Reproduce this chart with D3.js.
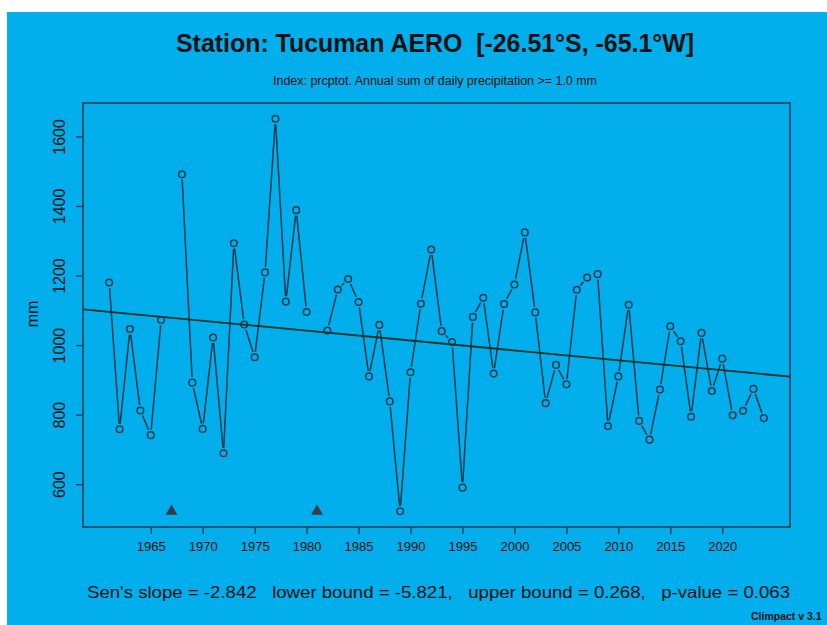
<!DOCTYPE html>
<html>
<head>
<meta charset="utf-8">
<script src="https://cdn.jsdelivr.net/npm/d3@7/dist/d3.min.js"></script>
<style>
  body { margin: 0; background: #fff; }
  text { font-family: "Liberation Sans", Arial, Helvetica, sans-serif; fill: #111; }
</style>
</head>
<body>
<script>
// annual prcptot, mm (null = missing year)
var years = d3.range(1961, 2025);
var prcptot = [
  1180, 758, 1046, 812, 741, 1072, null, 1491, 892, 759,
  1022, 689, 1293, 1059, 965, 1209, 1651, 1125, 1388, 1095,
  null, 1042, 1160, 1190, 1124, 910, 1058, 838, 522, 922,
  1119, 1275, 1040, 1009, 590, 1081, 1136, 918, 1118, 1174,
  1324, 1094, 833, 943, 887, 1159, 1194, 1204, 767, 910,
  1116, 782, 728, 872, 1054, 1011, 794, 1035, 868, 961,
  798, 811, 874, 790
];
var xTicks = [1965, 1970, 1975, 1980, 1985, 1990, 1995, 2000, 2005, 2010, 2015, 2020];
var yTicks = [600, 800, 1000, 1200, 1400, 1600];
var senSlope = -2.842, trendAt1990 = 1013;
var statsLine = "Sen's slope = -2.842   lower bound = -5.821,   upper bound = 0.268,   p-value = 0.063";

var W = 827, H = 625;
var box = {l: 83, r: 790, t: 103, b: 527};
var lineCol = "#17394a", trendCol = "#0c3322";

var svg = d3.select("body").append("svg")
    .attr("width", W).attr("height", H);

svg.append("rect").attr("x", 7).attr("y", 12)
    .attr("width", W - 7).attr("height", H - 12).attr("fill", "#02aeeb");

var pts = years.map(function(y, i) { return {year: y, v: prcptot[i]}; });
var valid = pts.filter(function(d) { return d.v != null; });

// R style 4% padding
var xr = d3.extent(years), yr = d3.extent(valid, function(d) { return d.v; });
var xp = (xr[1] - xr[0]) * 0.04, yp = (yr[1] - yr[0]) * 0.04;
var x = d3.scaleLinear().domain([xr[0] - xp, xr[1] + xp]).range([box.l, box.r]);
var y = d3.scaleLinear().domain([yr[0] - yp, yr[1] + yp]).range([box.b, box.t]);

// axes
var xAxis = svg.append("g").attr("transform", "translate(0," + box.b + ")")
    .call(d3.axisBottom(x).tickValues(xTicks).tickFormat(d3.format("d")).tickSize(7).tickPadding(8));
var yAxis = svg.append("g").attr("transform", "translate(" + box.l + ",0)")
    .call(d3.axisLeft(y).tickValues(yTicks).tickFormat(d3.format("d")).tickSize(7));
[xAxis, yAxis].forEach(function(g) {
  g.select(".domain").remove();
  g.selectAll("line").attr("stroke", lineCol).attr("stroke-width", 1.3);
});
xAxis.selectAll("text").attr("font-size", 13).attr("fill", "#111");
yAxis.selectAll("text")
    .attr("font-size", 16).attr("fill", "#111")
    .attr("text-anchor", "middle").attr("dy", null)
    .attr("x", null)
    .attr("transform", "translate(-18,0) rotate(-90)");

// trend line (Sen's slope)
svg.append("line")
    .attr("x1", box.l).attr("x2", box.r)
    .attr("y1", y(trendAt1990 + senSlope * (x.invert(box.l) - 1990)))
    .attr("y2", y(trendAt1990 + senSlope * (x.invert(box.r) - 1990)))
    .attr("stroke", trendCol).attr("stroke-width", 1.8);

// type "b" segments with gaps round the points
var gap = 5.5, segs = [];
for (var i = 1; i < pts.length; i++) {
  var a = pts[i - 1], b = pts[i];
  if (a.v == null || b.v == null) continue;
  var x1 = x(a.year), y1 = y(a.v), x2 = x(b.year), y2 = y(b.v);
  var len = Math.hypot(x2 - x1, y2 - y1);
  if (len <= 2 * gap) continue;
  var ux = (x2 - x1) / len, uy = (y2 - y1) / len;
  segs.push([x1 + ux * gap, y1 + uy * gap, x2 - ux * gap, y2 - uy * gap]);
}
svg.append("g").selectAll("line").data(segs).enter().append("line")
    .attr("x1", function(d) { return d[0]; }).attr("y1", function(d) { return d[1]; })
    .attr("x2", function(d) { return d[2]; }).attr("y2", function(d) { return d[3]; })
    .attr("stroke", lineCol).attr("stroke-width", 1.5);

svg.append("g").selectAll("circle").data(valid).enter().append("circle")
    .attr("cx", function(d) { return x(d.year); })
    .attr("cy", function(d) { return y(d.v); })
    .attr("r", 3.3)
    .attr("fill", "none").attr("stroke", lineCol).attr("stroke-width", 1.5);

// missing years
var missing = pts.filter(function(d) { return d.v == null; });
svg.append("g").selectAll("path").data(missing).enter().append("path")
    .attr("d", d3.symbol().type(d3.symbolTriangle).size(60))
    .attr("transform", function(d) { return "translate(" + x(d.year) + "," + y(yr[0]) + ")"; })
    .attr("fill", "#3a3a48");

// plot frame
svg.append("rect")
    .attr("x", box.l).attr("y", box.t)
    .attr("width", box.r - box.l).attr("height", box.b - box.t)
    .attr("fill", "none").attr("stroke", lineCol).attr("stroke-width", 1.5);

// texts
svg.append("text").attr("x", 435).attr("y", 52)
    .attr("text-anchor", "middle").attr("font-size", 26).attr("font-weight", "bold")
    .attr("textLength", 518).attr("lengthAdjust", "spacingAndGlyphs")
    .style("white-space", "pre")
    .text("Station: Tucuman AERO  [-26.51\u00b0S, -65.1\u00b0W]");

svg.append("text").attr("x", 435).attr("y", 85)
    .attr("text-anchor", "middle").attr("font-size", 12)
    .attr("textLength", 324).attr("lengthAdjust", "spacingAndGlyphs")
    .text("Index: prcptot. Annual sum of daily precipitation >= 1.0 mm");

svg.append("text").attr("transform", "translate(38,314) rotate(-90)")
    .attr("text-anchor", "middle").attr("font-size", 16).text("mm");

svg.append("text").attr("x", 87).attr("y", 598)
    .attr("font-size", 16.5).style("white-space", "pre")
    .attr("textLength", 703).attr("lengthAdjust", "spacingAndGlyphs")
    .text(statsLine);

svg.append("text").attr("x", 751).attr("y", 620)
    .attr("font-size", 10.5).attr("font-weight", "bold")
    .text("Climpact v 3.1");
</script>
</body>
</html>
